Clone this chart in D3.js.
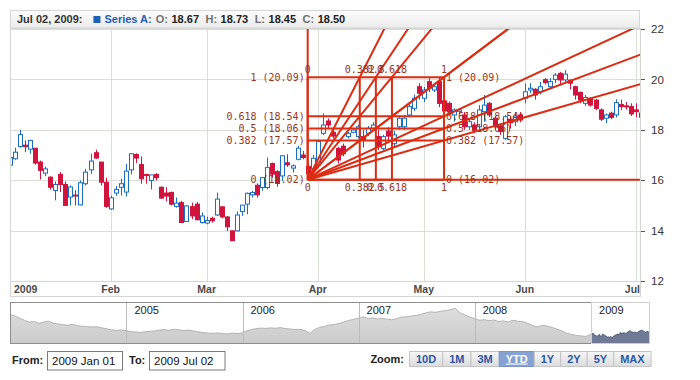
<!DOCTYPE html>
<html>
<head>
<meta charset="utf-8">
<script src="https://d3js.org/d3.v7.min.js"></script>
<style>
body { margin: 0; background: #fff; }
svg { display: block; font-family: "Liberation Sans", Arial, sans-serif; }
</style>
</head>
<body>
<svg width="700" height="380"></svg>
<script>
// Daily OHLC, 2 Jan 2009 .. 2 Jul 2009
var openVals = [16.6,16.85,17.34,17.39,17.23,17.27,16.72,16.28,16.12,15.59,16.23,15.83,15.33,15.41,15.02,15.86,16.41,17.09,16.72,15.92,
  14.86,15.49,15.72,15.53,16.41,17.02,16.62,16.23,15.99,16.23,15.72,15.49,15.51,14.96,15.11,14.36,14.95,15.05,14.32,
  14.3,14.49,14.62,14.94,14.54,13.99,13.99,14.76,15.05,15.42,15.8,15.71,15.71,16.66,16.34,16.17,16.69,16.48,16.83,17.0,16.55,16.45,
  16.6,17.86,18.35,17.9,17.26,17.35,17.73,17.9,17.73,17.73,17.86,18.06,17.73,17.26,17.95,17.45,18.12,18.12,18.59,18.85,
  19.71,19.25,19.91,19.58,19.91,19.15,19.05,18.59,18.73,18.59,18.12,18.19,18.12,18.72,19.05,18.46,18.15,17.66,18.42,18.32,18.59,
  19.25,19.58,19.61,19.51,19.99,19.71,20.0,20.24,19.98,19.97,19.71,19.48,19.05,19.25,19.18,18.79,18.46,18.66,18.59,19.0,18.95,18.92,
  18.79,18.67];
var highVals = [17.0,17.29,18.0,17.58,17.6,17.27,16.78,16.54,16.15,15.95,16.32,15.95,15.79,15.6,15.99,16.45,17.05,17.21,16.72,16.1,
  15.39,15.76,16.06,16.65,17.07,17.07,16.94,16.25,16.21,16.28,15.76,15.72,15.55,15.31,15.18,15.02,15.11,15.14,14.72,
  14.55,14.55,15.51,14.98,14.58,14.0,14.76,15.02,15.51,15.58,15.87,16.13,16.9,16.7,16.4,17.0,17.03,16.63,17.36,17.16,16.7,17.0,
  17.6,18.65,18.45,18.0,17.33,17.45,17.92,18.05,18.2,17.99,18.15,18.3,17.99,17.8,18.1,17.95,18.55,18.59,19.05,19.4,
  19.85,19.7,20.05,19.8,20.09,19.3,19.12,18.85,18.85,18.7,18.4,18.3,18.98,19.38,19.1,18.55,18.2,18.59,18.52,18.7,18.7,
  19.84,19.85,19.65,19.9,20.05,20.05,20.25,20.3,20.37,20.0,19.75,19.52,19.38,19.3,19.22,18.85,18.65,18.72,19.21,19.2,19.1,19.05,
  19.05,18.73];
var lowVals = [16.44,16.81,17.29,17.11,17.05,16.62,16.03,16.16,15.62,15.2,15.53,15.0,15.0,15.0,15.0,15.79,16.25,16.85,15.79,14.9,
  14.82,15.38,15.39,15.35,16.23,16.68,15.86,15.86,15.63,15.99,15.26,15.16,15.0,14.91,14.32,14.36,14.45,14.41,14.28,
  14.25,14.32,14.58,14.49,13.99,13.59,13.96,14.58,14.65,15.31,15.31,15.58,15.64,16.1,15.74,15.97,16.53,16.3,16.79,16.83,16.02,16.34,
  16.5,17.79,18.05,17.65,16.67,16.95,17.66,17.86,17.66,17.3,17.75,18.0,17.2,17.2,17.5,17.3,18.0,18.0,18.5,18.75,
  19.2,19.1,19.5,19.5,18.9,18.7,18.59,18.32,18.6,18.0,18.0,17.9,18.06,18.32,18.5,18.0,17.8,17.6,18.05,18.15,18.3,
  19.05,19.45,19.2,19.4,19.8,19.6,19.85,19.8,19.9,19.6,19.2,19.05,18.95,18.92,18.78,18.35,18.26,18.42,18.49,18.79,18.8,18.55,
  18.5,18.45];
var closeVals = [16.9,17.11,17.81,17.33,17.58,16.68,16.39,16.45,15.72,15.83,15.83,15.0,15.73,15.37,15.9,16.32,16.76,16.88,15.92,14.96,
  15.3,15.63,15.86,16.36,17.05,16.88,16.06,16.19,16.21,16.1,15.29,15.37,15.05,15.09,14.32,14.98,14.58,14.43,14.58,
  14.4,14.39,15.25,14.54,14.15,13.6,14.62,15.01,15.48,15.51,15.42,16.1,16.5,16.24,15.87,16.97,16.61,16.57,17.27,16.9,16.27,16.87,
  17.53,18.19,18.19,17.75,16.8,17.05,17.86,17.99,18.12,17.6,18.06,18.19,17.33,17.73,17.75,17.8,18.46,18.46,18.92,19.25,
  19.45,19.58,19.65,19.71,19.05,18.75,18.72,18.79,18.79,18.12,18.32,17.99,18.79,18.98,18.59,18.12,17.93,18.52,18.28,18.55,18.39,
  19.51,19.65,19.38,19.71,19.87,19.91,20.17,19.98,20.21,19.85,19.38,19.18,19.28,18.98,18.85,18.42,18.59,18.49,19.08,18.92,18.91,18.63,
  18.72,18.50];

var holidays = ["2009-01-19", "2009-02-16", "2009-04-10", "2009-05-25"];
var yTicks = [12, 14, 16, 18, 20, 22];

// Fibonacci fan, anchored on two candles
var fibStartIndex = 59, fibStartValue = 16.02;
var fibEndIndex = 86, fibEndValue = 20.09;
var fibLevels = [0, 0.382, 0.5, 0.618, 1];

// Navigator: half-monthly values 2004-2008, then the daily 2009 closes
var navValues = [32.5,31.5,29.5,28.0,26.5,27.0,25.5,26.5,27.2,25.8,25.0,24.5,24.0,24.8,23.6,23.2,23.0,22.6,22.8,22.0,21.2,20.4,20.0,20.3,
  19.8,19.0,18.6,18.4,18.8,19.2,19.5,20.2,20.6,20.0,20.8,20.4,19.8,20.2,19.4,18.8,18.2,17.8,17.6,18.0,17.4,17.2,17.8,17.5,
  18.0,19.6,20.8,21.4,21.8,21.5,22.0,21.6,22.2,21.4,21.0,20.6,20.8,20.0,17.6,20.5,22.4,23.0,24.2,24.6,25.4,26.6,27.8,28.6,
  29.6,30.6,29.4,29.8,29.0,29.4,28.8,28.4,29.2,30.4,30.8,31.2,31.8,32.6,33.8,34.6,34.2,35.0,35.6,36.2,37.4,33.8,32.2,30.6,
  29.4,28.0,28.4,27.6,28.2,27.0,27.4,26.6,28.0,27.2,26.8,25.6,23.8,22.6,24.0,23.4,22.2,21.0,19.6,17.8,16.8,16.0,15.6,15.2];
var navYears = [2005, 2006, 2007, 2008, 2009];

var zoomLabels = ["10D", "1M", "3M", "YTD", "1Y", "2Y", "5Y", "MAX"];
var zoomSelected = "YTD";
var fromText = "2009 Jan 01", toText = "2009 Jul 02";

var svg = d3.select("svg");
var fmtDay = d3.timeFormat("%Y-%m-%d");

// trading days
var dates = d3.timeDay.range(new Date(2009, 0, 2), new Date(2009, 6, 3))
    .filter(function (d) { return d.getDay() % 6 !== 0 && holidays.indexOf(fmtDay(d)) < 0; });

var bars = dates.map(function (d, i) {
    return {date: d, i: i, o: openVals[i], h: highVals[i], l: lowVals[i], c: closeVals[i]};
});

var plot = {left: 10, right: 640, top: 28, bottom: 281};

var x = d3.scaleLinear().domain([0, bars.length - 1]).range([9.7, 641]);
var y = d3.scaleLinear().domain([12, 22]).range([281, 29]);

var defs = svg.append("defs");
defs.append("clipPath").attr("id", "plotClip")
    .append("rect")
    .attr("x", plot.left).attr("y", plot.top)
    .attr("width", plot.right - plot.left).attr("height", plot.bottom - plot.top);

// header gradient
var grad = defs.append("linearGradient").attr("id", "hdr")
    .attr("x1", 0).attr("y1", 0).attr("x2", 0).attr("y2", 1);
grad.append("stop").attr("offset", "0%").attr("stop-color", "#fdfdfd");
grad.append("stop").attr("offset", "100%").attr("stop-color", "#ebebeb");

var btnGrad = defs.append("linearGradient").attr("id", "btn")
    .attr("x1", 0).attr("y1", 0).attr("x2", 0).attr("y2", 1);
btnGrad.append("stop").attr("offset", "0%").attr("stop-color", "#f7f7f7");
btnGrad.append("stop").attr("offset", "100%").attr("stop-color", "#dcdcdc");

var navGrad = defs.append("linearGradient").attr("id", "navFill")
    .attr("x1", 0).attr("y1", 0).attr("x2", 0).attr("y2", 1);
navGrad.append("stop").attr("offset", "0%").attr("stop-color", "#dedede");
navGrad.append("stop").attr("offset", "100%").attr("stop-color", "#cbcbcb");

// grid
svg.append("g")
    .selectAll("line")
    .data(yTicks)
    .enter()
    .append("line")
    .attr("x1", plot.left).attr("x2", plot.right)
    .attr("y1", function (d) { return Math.round(y(d)) + 0.5; })
    .attr("y2", function (d) { return Math.round(y(d)) + 0.5; })
    .style("stroke", "#dadfda");

var monthTicks = bars.filter(function (d, i) {
    return i === 0 || d.date.getMonth() !== bars[i - 1].date.getMonth();
});

svg.append("g")
    .selectAll("line")
    .data(monthTicks.slice(1))
    .enter()
    .append("line")
    .attr("x1", function (d) { return Math.round(x(d.i)) + 0.5; })
    .attr("x2", function (d) { return Math.round(x(d.i)) + 0.5; })
    .attr("y1", plot.top).attr("y2", plot.bottom)
    .style("stroke", "#dadfda");

// candles
var candles = svg.append("g").attr("clip-path", "url(#plotClip)")
    .selectAll("g")
    .data(bars)
    .enter()
    .append("g");

var upColor = "#1c6ec3", downColor = "#d0143d";

candles.append("line")
    .attr("x1", function (d) { return Math.round(x(d.i)) + 0.5; })
    .attr("x2", function (d) { return Math.round(x(d.i)) + 0.5; })
    .attr("y1", function (d) { return y(d.h); })
    .attr("y2", function (d) { return y(d.l); })
    .style("stroke", function (d) { return d.c >= d.o ? upColor : downColor; });

candles.append("rect")
    .attr("x", function (d) { return Math.round(x(d.i)) - 1.5; })
    .attr("y", function (d) { return y(Math.max(d.o, d.c)); })
    .attr("width", 4)
    .attr("height", function (d) { return Math.max(1, Math.abs(y(d.o) - y(d.c))); })
    .attr("fill", function (d) { return d.c >= d.o ? "#fff" : downColor; })
    .style("stroke", function (d) { return d.c >= d.o ? upColor : downColor; });

// fibonacci fan
var fibColor = "#dc2c12", fibText = "#9a3520";
var xs = x(fibStartIndex), xe = x(fibEndIndex);
var ys = y(fibStartValue), ye = y(fibEndValue);
var fibValue = function (lv) { return fibStartValue + lv * (fibEndValue - fibStartValue); };

var fib = svg.append("g").attr("clip-path", "url(#plotClip)");
var fibSegs = [];
fibLevels.forEach(function (lv) {
    // box lines
    fibSegs.push([xs, y(fibValue(lv)), xe, y(fibValue(lv))]);
    fibSegs.push([xs + lv * (xe - xs), ys, xs + lv * (xe - xs), ye]);
    // rays, long enough to leave the plot
    var px = xe, py = y(fibValue(lv));
    fibSegs.push([xs, ys, xs + (px - xs) * 30, ys + (py - ys) * 30]);
    px = xs + lv * (xe - xs); py = ye;
    fibSegs.push([xs, ys, xs + (px - xs) * 30, ys + (py - ys) * 30]);
});

fib.selectAll("line")
    .data(fibSegs)
    .enter()
    .append("line")
    .attr("x1", function (d) { return d[0]; })
    .attr("y1", function (d) { return d[1]; })
    .attr("x2", function (d) { return d[2]; })
    .attr("y2", function (d) { return d[3]; })
    .style("stroke", fibColor)
    .style("stroke-width", 2);

var fibLabels = svg.append("g")
    .style("font-family", "'DejaVu Sans Mono', monospace")
    .style("font-size", "10px")
    .attr("fill", fibText);

fibLevels.forEach(function (lv) {
    var txt = lv + " (" + (Math.round(fibValue(lv) * 100 + 1e-6) / 100).toFixed(2) + ")";
    var ly = y(fibValue(lv));
    fibLabels.append("text").attr("x", xs - 3).attr("y", ly).attr("dy", "0.35em")
        .attr("text-anchor", "end").text(txt);
    fibLabels.append("text").attr("x", xe + 2).attr("y", ly).attr("dy", "0.35em")
        .text(txt);
    var lx = xs + lv * (xe - xs);
    fibLabels.append("text").attr("x", lx).attr("y", ye - 8).attr("dy", "0.35em")
        .attr("text-anchor", "middle").text(lv);
    fibLabels.append("text").attr("x", lx).attr("y", ys + 8).attr("dy", "0.35em")
        .attr("text-anchor", "middle").text(lv);
});

// frame and axes
svg.append("rect")
    .attr("x", plot.left + 0.5).attr("y", plot.top + 0.5)
    .attr("width", plot.right - plot.left).attr("height", 296 - plot.top)
    .attr("fill", "none")
    .style("stroke", "#d3d6d3");
svg.append("line")
    .attr("x1", plot.left).attr("x2", plot.right)
    .attr("y1", plot.bottom + 0.5).attr("y2", plot.bottom + 0.5)
    .style("stroke", "#d3d6d3");

var yAxis = svg.append("g");
yAxis.selectAll("line")
    .data(yTicks)
    .enter()
    .append("line")
    .attr("x1", 641).attr("x2", 645)
    .attr("y1", function (d) { return Math.round(y(d)) + 0.5; })
    .attr("y2", function (d) { return Math.round(y(d)) + 0.5; })
    .style("stroke", "#555");
yAxis.selectAll("text")
    .data(yTicks)
    .enter()
    .append("text")
    .attr("x", 651)
    .attr("y", function (d) { return y(d); })
    .attr("dy", "0.36em")
    .attr("fill", "#333")
    .style("font-size", "11.5px")
    .text(function (d) { return d; });

var fmtMonth = d3.timeFormat("%b");
svg.append("g")
    .selectAll("text")
    .data(monthTicks)
    .enter()
    .append("text")
    .attr("y", 293)
    .attr("fill", "#4a4a4a")
    .style("font-size", "10.5px")
    .style("font-weight", "bold")
    .text(function (d, i) { return i === 0 ? d.date.getFullYear() : fmtMonth(d.date); })
    .attr("text-anchor", "middle")
    .attr("x", function (d) {
        var w = this.getComputedTextLength();
        return Math.max(plot.left + 4 + w / 2, Math.min(plot.right - w / 2, x(d.i)));
    });

// header bar
var header = svg.append("g");
header.append("rect")
    .attr("x", 10.5).attr("y", 10.5).attr("width", 629).attr("height", 17.5)
    .attr("fill", "url(#hdr)")
    .style("stroke", "#d6d6d6");

var last = bars[bars.length - 1];
var hx = 17;
function piece(txt, color, gap) {
    var t = header.append("text")
        .attr("x", hx).attr("y", 23)
        .attr("fill", color)
        .style("font-size", "11px")
        .style("font-weight", "bold")
        .text(txt);
    hx += t.node().getComputedTextLength() + gap;
}
piece(d3.timeFormat("%b %d, %Y:")(last.date), "#333", 11);
header.append("rect").attr("x", hx).attr("y", 16).attr("width", 7).attr("height", 7).attr("fill", "#1f5fb5");
hx += 11;
piece("Series A:", "#1f5fb5", 4);
[["O:", last.o], ["H:", last.h], ["L:", last.l], ["C:", last.c]].forEach(function (p) {
    piece(p[0], "#707070", 3.5);
    piece(p[1].toFixed(2), "#222", 6.5);
});

// navigator
var nav = {left: 10, right: 649, top: 302, bottom: 343};
var navSeries = navValues.map(function (v, k) {
    return {date: new Date(2004 + Math.floor(k / 24), Math.floor((k % 24) / 2), k % 2 ? 15 : 1), v: v};
});
var navSel = bars.map(function (d) { return {date: d.date, v: d.c}; });

var nx = d3.scaleTime().domain([new Date(2004, 0, 1), last.date]).range([nav.left, nav.right]);
var ny = d3.scaleLinear().domain([10, 42.4]).range([nav.bottom, nav.top]);

svg.append("rect")
    .attr("x", nav.left + 0.5).attr("y", nav.top + 0.5)
    .attr("width", nav.right - nav.left).attr("height", nav.bottom - nav.top)
    .attr("fill", "#fff");

var navArea = d3.area()
    .x(function (d) { return nx(d.date); })
    .y0(nav.bottom)
    .y1(function (d) { return ny(d.v); });
var navLine = d3.line()
    .x(function (d) { return nx(d.date); })
    .y(function (d) { return ny(d.v); });

var unsel = navSeries.concat([navSel[0]]);
svg.append("path").datum(unsel).attr("d", navArea).attr("fill", "url(#navFill)");
svg.append("path").datum(unsel).attr("d", navLine).attr("fill", "none").style("stroke", "#b3b3b3");
svg.append("path").datum(navSel).attr("d", navArea).attr("fill", "#6f7a96");
svg.append("path").datum(navSel).attr("d", navLine).attr("fill", "none").style("stroke", "#515c7a");

var navG = svg.append("g");
navG.selectAll("line")
    .data(navYears)
    .enter()
    .append("line")
    .attr("x1", function (d) { return Math.round(nx(new Date(d, 0, 1))) + 0.5; })
    .attr("x2", function (d) { return Math.round(nx(new Date(d, 0, 1))) + 0.5; })
    .attr("y1", nav.top).attr("y2", nav.bottom)
    .style("stroke", "#bcbcbc");
navG.selectAll("text")
    .data(navYears)
    .enter()
    .append("text")
    .attr("x", function (d) { return nx(new Date(d, 0, 1)) + 8; })
    .attr("y", 314)
    .attr("fill", "#222")
    .style("font-size", "11px")
    .text(function (d) { return d; });

var selX = Math.round(nx(new Date(2009, 0, 1))) + 0.5;
svg.append("rect")
    .attr("x", nav.left + 0.5).attr("y", nav.top + 0.5)
    .attr("width", selX - nav.left - 0.5).attr("height", nav.bottom - nav.top)
    .attr("fill", "none")
    .style("stroke", "#8e8e8e");
svg.append("rect")
    .attr("x", selX).attr("y", nav.top + 0.5)
    .attr("width", nav.right - selX + 0.5).attr("height", nav.bottom - nav.top)
    .attr("fill", "none")
    .style("stroke", "#cfcfcf");

// range inputs
var ctrl = svg.append("g").style("font-size", "11px");
ctrl.append("text").attr("x", 12).attr("y", 364).style("font-weight", "bold").attr("fill", "#222").text("From:");
ctrl.append("rect").attr("x", 47.5).attr("y", 351.5).attr("width", 75).attr("height", 18.5)
    .attr("fill", "#fff").style("stroke", "#7a7a7a");
ctrl.append("text").attr("x", 52).attr("y", 364.5).attr("fill", "#111").style("font-size", "11.5px").text(fromText);
ctrl.append("text").attr("x", 129).attr("y", 364).style("font-weight", "bold").attr("fill", "#222").text("To:");
ctrl.append("rect").attr("x", 149.5).attr("y", 351.5).attr("width", 75.5).attr("height", 18.5)
    .attr("fill", "#fff").style("stroke", "#7a7a7a");
ctrl.append("text").attr("x", 154).attr("y", 364.5).attr("fill", "#111").style("font-size", "11.5px").text(toText);

ctrl.append("text").attr("x", 404).attr("y", 363).attr("text-anchor", "end")
    .style("font-weight", "bold").attr("fill", "#222").text("Zoom:");

var bx = 409.5;
zoomLabels.forEach(function (lbl) {
    var sel = lbl === zoomSelected;
    var g = ctrl.append("g");
    var r = g.append("rect").attr("x", bx).attr("y", 351.5).attr("height", 15)
        .attr("fill", sel ? "#86a2d3" : "url(#btn)")
        .style("stroke", sel ? "#7a95c5" : "#c4c4c4");
    var t = g.append("text").attr("y", 362.5)
        .attr("text-anchor", "middle")
        .style("font-weight", "bold")
        .style("text-decoration", sel ? "underline" : "none")
        .attr("fill", sel ? "#fff" : "#2a58a6")
        .text(lbl);
    var w = t.node().getComputedTextLength() + 13;
    r.attr("width", w);
    t.attr("x", bx + w / 2);
    bx += w;
});
</script>
</body>
</html>
